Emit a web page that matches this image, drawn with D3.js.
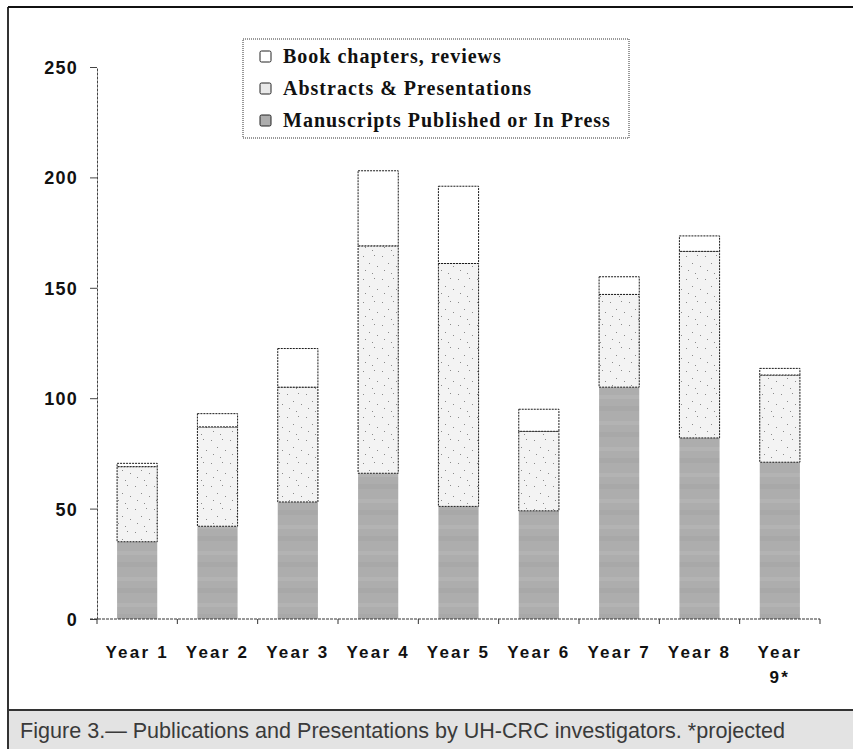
<!DOCTYPE html>
<html>
<head>
<meta charset="utf-8">
<script src="https://cdn.jsdelivr.net/npm/d3@7"></script>
<style>
  html, body { margin: 0; padding: 0; background: #fff; }
  svg { display: block; }
</style>
</head>
<body>
<svg id="chart" width="853" height="749"></svg>
<script>
// Publications and presentations per project year (stacked)
const years = ["Year 1", "Year 2", "Year 3", "Year 4", "Year 5", "Year 6", "Year 7", "Year 8", "Year 9*"];
const manuscripts = [35, 42, 53, 66, 51, 49, 105, 82, 71];
const abstracts   = [34, 45, 52, 103, 110, 36, 42, 84.5, 39.5];
const chapters    = [1.5, 6, 17.5, 34, 35, 10, 8, 7, 3];
const yTicks = [0, 50, 100, 150, 200, 250];
const seriesNames = ["Book chapters, reviews", "Abstracts & Presentations", "Manuscripts Published or In Press"];
const caption = "Figure 3.\u2014 Publications and Presentations by UH-CRC investigators. *projected";

const svg = d3.select("#chart");
const defs = svg.append("defs");

// sparse stippled fill for abstracts
const dots = defs.append("pattern").attr("id", "dots")
  .attr("patternUnits", "userSpaceOnUse").attr("width", 19).attr("height", 23);
dots.append("rect").attr("width", 19).attr("height", 23).attr("fill", "#f3f3f3");
[[2,3],[13,2],[8,10],[16,13],[4,17],[11,20]].forEach(([cx, cy]) =>
  dots.append("rect").attr("x", cx).attr("y", cy).attr("width", 1).attr("height", 1).attr("fill", "#8a8a8a"));

// mottled grey for manuscripts
const grey = defs.append("pattern").attr("id", "grey")
  .attr("patternUnits", "userSpaceOnUse").attr("width", 40).attr("height", 26);
grey.append("rect").attr("width", 40).attr("height", 26).attr("fill", "#adadad");
grey.append("rect").attr("y", 5).attr("width", 40).attr("height", 4).attr("fill", "#b3b3b3");
grey.append("rect").attr("y", 16).attr("width", 40).attr("height", 5).attr("fill", "#a8a8a8");

const x = d3.scaleBand().domain(years).range([97, 820]).paddingInner(0.5).paddingOuter(0.25);
const y = d3.scaleLinear().domain([0, 250]).range([619, 67]);

const rows = years.map((yr, i) => ({ year: yr, m: manuscripts[i], a: abstracts[i], c: chapters[i] }));
const stack = d3.stack().keys(["m", "a", "c"])(rows);
const fills = { m: "url(#grey)", a: "url(#dots)", c: "#ffffff" };

// outer frame
svg.append("line").attr("x1", 8).attr("x2", 8).attr("y1", 7).attr("y2", 749)
  .attr("stroke", "#333").attr("stroke-width", 2);
svg.append("line").attr("x1", 8).attr("x2", 853).attr("y1", 7).attr("y2", 7)
  .attr("stroke", "#111").attr("stroke-width", 2);

// bars
const layers = svg.append("g").selectAll("g").data(stack).join("g");
layers.selectAll("rect").data(s => s.map(d => ({ key: s.key, d })))
  .join("rect")
  .attr("x", p => x(p.d.data.year))
  .attr("width", x.bandwidth())
  .attr("y", p => y(p.d[1]))
  .attr("height", p => y(p.d[0]) - y(p.d[1]))
  .attr("fill", p => fills[p.key])
  .attr("stroke", p => p.key === "m" ? "none" : "#1a1a1a")
  .attr("stroke-width", 1)
  .attr("stroke-dasharray", "2,1");

// y axis
const yAxis = svg.append("g").attr("transform", "translate(97,0)")
  .call(d3.axisLeft(y).tickValues(yTicks).tickSize(7).tickPadding(12).tickSizeOuter(0));
yAxis.select(".domain").attr("stroke", "#444").attr("stroke-dasharray", "3,1");
yAxis.selectAll(".tick line").attr("stroke", "#444");
yAxis.selectAll("text")
  .attr("font-family", "Liberation Sans, Arial, sans-serif")
  .attr("font-weight", "bold").attr("font-size", 18).attr("letter-spacing", 1.2)
  .attr("fill", "#111").attr("dy", "0.36em");

// x axis with ticks between categories
const xg = svg.append("g");
xg.append("line").attr("x1", 90).attr("x2", 820).attr("y1", y(0)).attr("y2", y(0))
  .attr("stroke", "#333").attr("stroke-dasharray", "3,1");
const gap = (x.step() - x.bandwidth()) / 2;
const edges = years.map(d => x(d) - gap).concat([x(years[years.length - 1]) + x.bandwidth() + gap]);
xg.selectAll("line.tk").data(edges).join("line").attr("class", "tk")
  .attr("x1", d => d).attr("x2", d => d).attr("y1", y(0)).attr("y2", y(0) + 5)
  .attr("stroke", "#333");

const labels = xg.selectAll("text.xl").data(years).join("text").attr("class", "xl")
  .attr("x", d => x(d) + x.bandwidth() / 2)
  .attr("y", 658)
  .attr("text-anchor", "middle")
  .attr("font-family", "Liberation Sans, Arial, sans-serif")
  .attr("font-weight", "bold").attr("font-size", 17).attr("letter-spacing", 2.2)
  .attr("fill", "#111")
  .text(d => d);

// wrap labels too wide for their slot
labels.each(function(d) {
  const t = d3.select(this);
  if (this.getComputedTextLength() > 70) {
    const words = d.split(" ");
    const cx = t.attr("x");
    t.text(null);
    words.forEach((w, i) => t.append("tspan").attr("x", cx).attr("dy", i === 0 ? 0 : 25).text(w));
  }
});

// legend
const lg = svg.append("g");
lg.append("rect").attr("x", 243).attr("y", 39).attr("width", 386).attr("height", 99)
  .attr("fill", "#fff").attr("stroke", "#333").attr("stroke-dasharray", "1,1");
const lgFill = ["#ffffff", "#e9e9e9", "#adadad"];
const lgBase = [63, 95, 127];
seriesNames.forEach((name, i) => {
  lg.append("rect").attr("x", 260).attr("y", lgBase[i] - 12).attr("width", 11).attr("height", 11)
    .attr("fill", lgFill[i]).attr("stroke", "#222").attr("stroke-width", 1).attr("rx", 1.5);
  lg.append("text").attr("x", 283).attr("y", lgBase[i])
    .attr("font-family", "Liberation Serif, Times New Roman, serif")
    .attr("font-weight", "bold").attr("font-size", 20).attr("letter-spacing", 1)
    .attr("fill", "#111").text(name);
});

// caption strip
svg.append("rect").attr("x", 9).attr("y", 711).attr("width", 844).attr("height", 38).attr("fill", "#e3e3e3");
svg.append("line").attr("x1", 8).attr("x2", 853).attr("y1", 710).attr("y2", 710)
  .attr("stroke", "#333").attr("stroke-width", 2);
svg.append("text").attr("x", 20).attr("y", 738)
  .attr("font-family", "Liberation Sans, Arial, sans-serif")
  .attr("font-size", 22).attr("fill", "#3a3a3a")
  .attr("textLength", 765).attr("lengthAdjust", "spacingAndGlyphs")
  .text(caption);
</script>
</body>
</html>
